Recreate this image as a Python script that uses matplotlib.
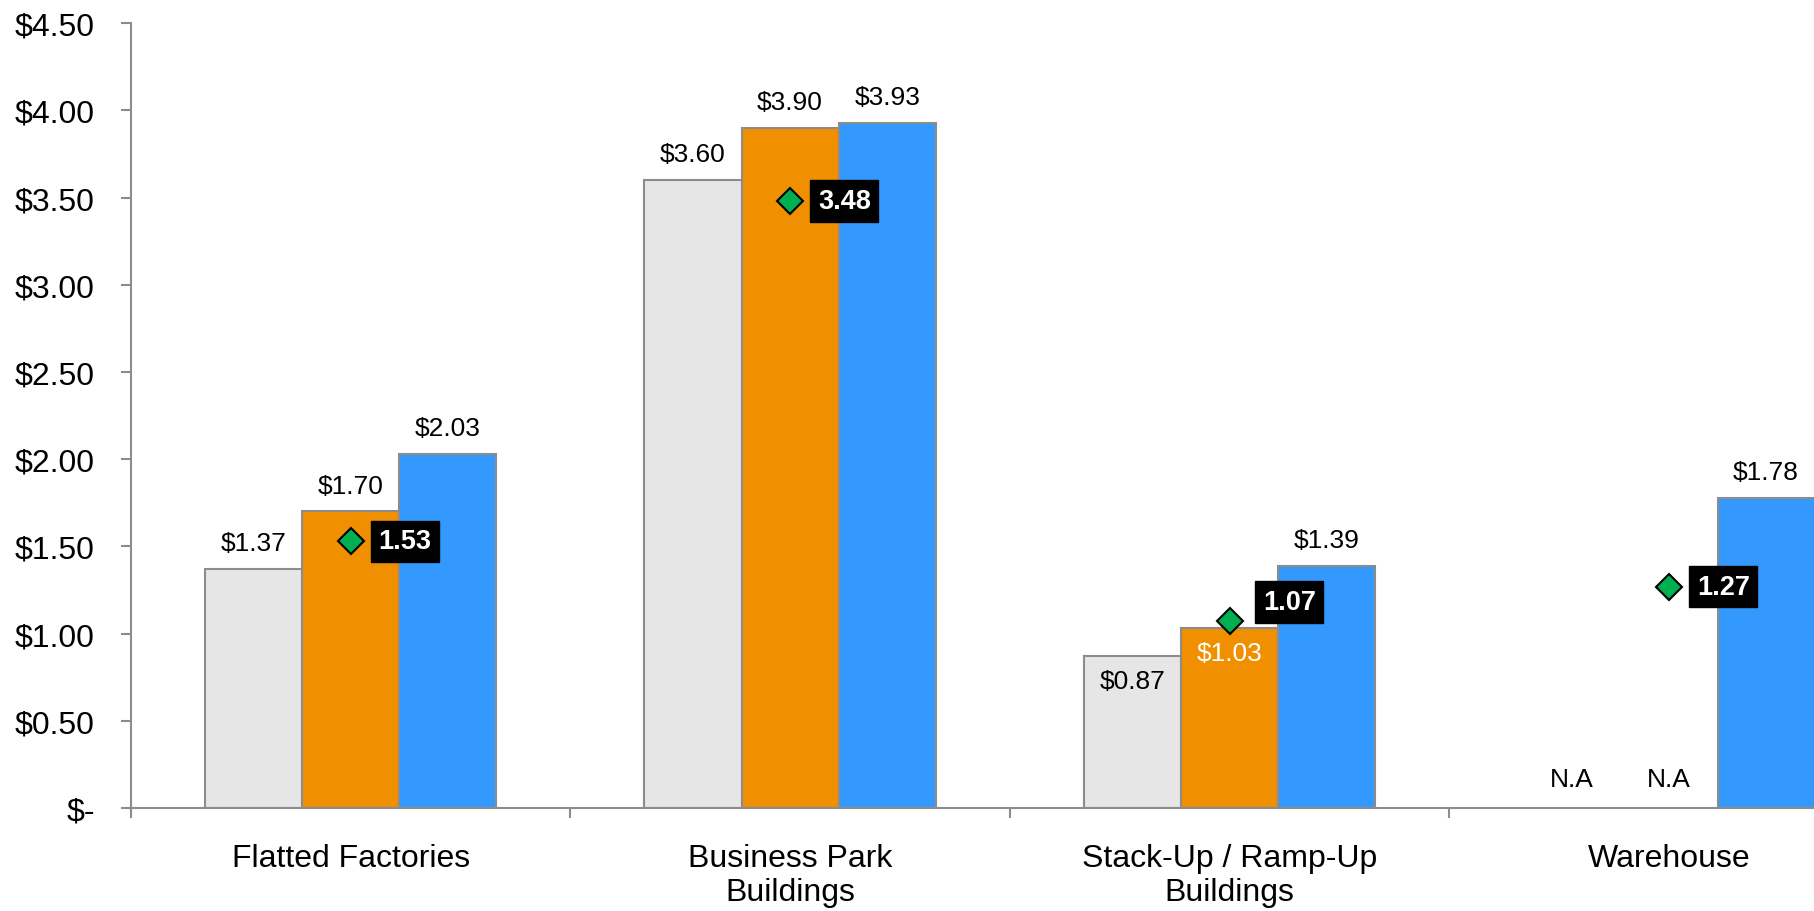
#!/usr/bin/python3

import matplotlib
matplotlib.use('Agg')
import matplotlib.pyplot as plt
import numpy as np

plt.rcParams['font.family'] = ['Liberation Sans', 'DejaVu Sans']

# chart data
categories = ['Flatted Factories', 'Business Park\nBuildings',
              'Stack-Up / Ramp-Up\nBuildings', 'Warehouse']
series_grey = [1.37, 3.60, 0.87, np.nan]
series_orange = [1.70, 3.90, 1.03, np.nan]
series_blue = [2.03, 3.93, 1.39, 1.78]
average = [1.53, 3.48, 1.07, 1.27]
ytick_values = [0, 0.5, 1.0, 1.5, 2.0, 2.5, 3.0, 3.5, 4.0, 4.5]
ytick_labels = ['$-', '$0.50', '$1.00', '$1.50', '$2.00', '$2.50',
                '$3.00', '$3.50', '$4.00', '$4.50']


def main():
	fig = plt.figure(figsize=(18.14, 9.12), dpi=100)
	ax = fig.add_axes([0.0722, 0.1129, 0.9278, 0.8607])

	x = np.arange(len(categories))
	w = 0.221
	edge = '#8C8C8C'
	series = [(series_grey, '#E6E6E6', -w), (series_orange, '#F09000', 0.0),
	          (series_blue, '#3399FF', w)]
	# labels drawn inside the bar (top) instead of above it
	inside = {(0, 2): 'black', (1, 2): 'white'}

	for si, (vals, col, off) in enumerate(series):
		ax.bar(x + off, vals, width=w, color=col, edgecolor=edge, linewidth=1.5, zorder=2)
		for ci, v in enumerate(vals):
			if np.isnan(v):
				ax.annotate('N.A', (x[ci] + off, 0), xytext=(0, 12), textcoords='offset points',
				            ha='center', va='bottom', fontsize=19, color='black')
			elif (si, ci) in inside:
				ax.annotate('$%.2f' % v, (x[ci] + off, v), xytext=(0, -9), textcoords='offset points',
				            ha='center', va='top', fontsize=19, color=inside[(si, ci)], zorder=4)
			else:
				ax.annotate('$%.2f' % v, (x[ci] + off, v), xytext=(0, 10), textcoords='offset points',
				            ha='center', va='bottom', fontsize=19, color='black')

	# average markers with black value boxes
	ax.plot(x, average, linestyle='none', marker='D', markersize=13.5, color='#00B050',
	        markeredgecolor='black', markeredgewidth=1.5, zorder=5)
	box_offsets = [(20, 0), (20, 0), (24, 14), (20, 0)]
	for ci, v in enumerate(average):
		ax.annotate('%.2f' % v, (x[ci], v), xytext=box_offsets[ci], textcoords='offset points',
		            ha='left', va='center', fontsize=19.5, fontweight='bold', color='white',
		            bbox=dict(boxstyle='square,pad=0.28', fc='black', ec='black'), zorder=6)

	ax.set_xlim(-0.5, 3.33)
	ax.set_ylim(0, 4.5)
	ax.set_yticks(ytick_values)
	ax.set_yticklabels(ytick_labels, fontsize=23)
	ax.set_xticks(x)
	ax.set_xticklabels(categories, fontsize=23, linespacing=1.2)
	ax.set_xticks([-0.5, 0.5, 1.5, 2.5], minor=True)

	ax.tick_params(axis='x', which='major', length=0, pad=25)
	ax.tick_params(axis='x', which='minor', length=7, width=1.5, color=edge, direction='out')
	ax.tick_params(axis='y', length=7, width=1.5, color=edge, pad=19)

	for s in ['top', 'right']:
		ax.spines[s].set_visible(False)
	for s in ['left', 'bottom']:
		ax.spines[s].set_color(edge)
		ax.spines[s].set_linewidth(1.5)

	plt.savefig('out.png', dpi=100)


if __name__ == '__main__':
	main()
